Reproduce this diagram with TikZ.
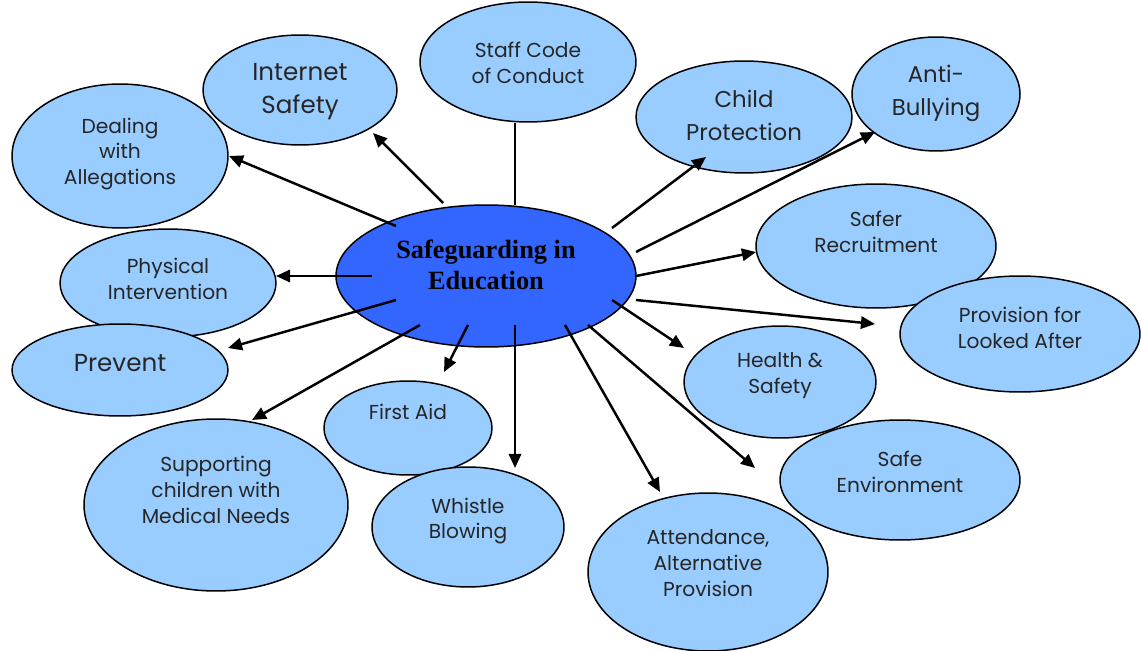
\documentclass[tikz,border=0pt]{standalone}
\usepackage{fontspec}
\setmainfont{Poppins}
\newfontfamily\hubfont{Liberation Serif}
\usetikzlibrary{shapes.geometric,arrows.meta,calc}

\definecolor{topicblue}{HTML}{99CCFF}
\definecolor{hubblue}{HTML}{3366FF}

\tikzset{
    topic/.style={ellipse, draw=black, line width=0.85pt, fill=topicblue, inner sep=0pt},
    lbl/.style={align=center, font=\fontsize{11.5}{14.7}\selectfont, text=black!85},
    biglbl/.style={align=center, font=\fontsize{14}{18.7}\selectfont, text=black!85},
    arr/.style={line width=1.4pt, -{Triangle[length=8pt, width=7pt]}},
}

\begin{document}
\begin{tikzpicture}[x=0.02cm, y=-0.02cm]
    \useasboundingbox (0,0) rectangle (1141,651);

    % elips-elips topik
    \node[topic, minimum width=3.88cm, minimum height=2.2cm]  (inet)   at (300,90)   {};
    \node[topic, minimum width=4.32cm, minimum height=2.88cm] (deal)   at (120,156)  {};
    \node[topic, minimum width=4.32cm, minimum height=2.4cm]  (staff)  at (528,62)   {};
    \node[topic, minimum width=4.32cm, minimum height=2.24cm] (child)  at (744,117)  {};
    \node[topic, minimum width=3.36cm, minimum height=2.28cm] (anti)   at (936,94)   {};
    \node[topic, minimum width=4.8cm,  minimum height=2.48cm] (safer)  at (876,246)  {};
    \node[topic, minimum width=4.8cm,  minimum height=2.32cm] (prov)   at (1020,334) {};
    \node[topic, minimum width=3.84cm, minimum height=2.24cm] (health) at (780,382)  {};
    \node[topic, minimum width=4.8cm,  minimum height=2.4cm]  (env)    at (900,480)  {};
    \node[topic, minimum width=4.8cm,  minimum height=3.16cm] (att)    at (708,572)  {};
    \node[topic, minimum width=3.36cm, minimum height=1.88cm] (aid)    at (408,428)  {};
    \node[topic, minimum width=3.84cm, minimum height=2.4cm]  (whistle) at (468,527) {};
    \node[topic, minimum width=5.28cm, minimum height=3.44cm] (med)    at (216,505)  {};
    \node[topic, minimum width=4.32cm, minimum height=2.16cm] (phys)   at (168,283)  {};
    \node[topic, minimum width=4.32cm, minimum height=1.84cm] (prev)   at (120,370)  {};

    % teks topik
    \node[biglbl] (inet-t)    at (300,92)   {Internet\\Safety};
    \node[lbl]    (deal-t)    at (120,154)  {Dealing\\with\\Allegations};
    \node[lbl]    (staff-t)   at (528,63)   {Staff Code\\of Conduct};
    \node[biglbl, font=\fontsize{13}{18.7}\selectfont] (child-t) at (744,115) {Child\\Protection};
    \node[biglbl, font=\fontsize{13}{18.7}\selectfont] (anti-t)  at (936,93)  {Anti-\\Bullying};
    \node[lbl]    (safer-t)   at (876,232)  {Safer\\Recruitment};
    \node[lbl]    (prov-t)    at (1020,328) {Provision for\\Looked After};
    \node[lbl]    (health-t)  at (780,376)  {Health \&\\Safety};
    \node[lbl]    (env-t)     at (900,472)  {Safe\\Environment};
    \node[lbl]    (att-t)     at (708,563)  {Attendance,\\Alternative\\Provision};
    \node[lbl]    (aid-t)     at (408,412)  {First Aid};
    \node[lbl]    (whistle-t) at (468,521)  {Whistle\\Blowing};
    \node[lbl]    (med-t)     at (216,490)  {Supporting\\children with\\Medical Needs};
    \node[lbl]    (phys-t)    at (168,279)  {Physical\\Intervention};
    \node[biglbl] (prev-t)    at (120,363)  {Prevent};

    % elips pusat
    \node[ellipse, draw=black, line width=0.85pt, fill=hubblue, inner sep=0pt,
          minimum width=6cm, minimum height=2.84cm] (hub) at (486,276) {};
    \node[align=center, font=\hubfont\bfseries\fontsize{15}{17.5}\selectfont] (hub-t)
          at (486,265) {Safeguarding in\\Education};

    % titik-titik awal dan ujung panah
    \coordinate (deal-s)    at (396,226);  \coordinate (deal-e)    at (229,156);
    \coordinate (inet-s)    at (443,203);  \coordinate (inet-e)    at (373,133);
    \coordinate (staff-s)   at (515,205);  \coordinate (staff-e)   at (515,123);
    \coordinate (child-s)   at (612,228);  \coordinate (child-e)   at (706,157);
    \coordinate (anti-s)    at (636,252);  \coordinate (anti-e)    at (875,132);
    \coordinate (safer-s)   at (636,276);  \coordinate (safer-e)   at (756,252);
    \coordinate (prov-s)    at (636,300);  \coordinate (prov-e)    at (875,324);
    \coordinate (health-s)  at (612,300);  \coordinate (health-e)  at (684,348);
    \coordinate (env-s)     at (588,325);  \coordinate (env-e)     at (755,468);
    \coordinate (att-s)     at (565,325);  \coordinate (att-e)     at (660,492);
    \coordinate (whistle-s) at (515,325);  \coordinate (whistle-e) at (515,468);
    \coordinate (aid-s)     at (468,325);  \coordinate (aid-e)     at (444,372);
    \coordinate (med-s)     at (420,325);  \coordinate (med-e)     at (252,420);
    \coordinate (prev-s)    at (396,300);  \coordinate (prev-e)    at (228,348);
    \coordinate (phys-s)    at (372,276);  \coordinate (phys-e)    at (276,276);

    % pembuatan panah
    \draw[line width=1.4pt] (staff-s) -- (staff-e);
    \draw[arr] (deal-s) -- (deal-e);
    \draw[arr] (inet-s) -- (inet-e);
    \draw[arr] (child-s) -- (child-e);
    \draw[arr] (anti-s) -- (anti-e);
    \draw[arr] (safer-s) -- (safer-e);
    \draw[arr] (prov-s) -- (prov-e);
    \draw[arr] (health-s) -- (health-e);
    \draw[arr] (env-s) -- (env-e);
    \draw[arr] (att-s) -- (att-e);
    \draw[arr] (whistle-s) -- (whistle-e);
    \draw[arr] (aid-s) -- (aid-e);
    \draw[arr] (med-s) -- (med-e);
    \draw[arr] (prev-s) -- (prev-e);
    \draw[arr] (phys-s) -- (phys-e);
\end{tikzpicture}
\end{document}
